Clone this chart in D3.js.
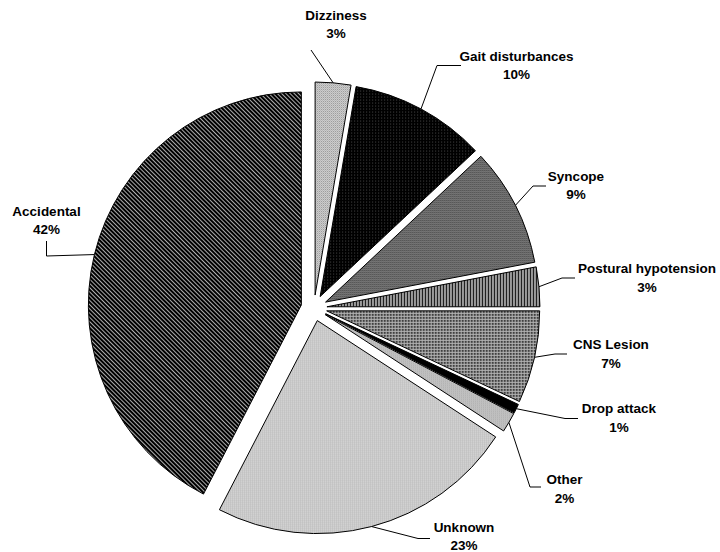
<!DOCTYPE html>
<html>
<head>
<meta charset="utf-8">
<script src="https://cdn.jsdelivr.net/npm/d3@7"></script>
<style>
  html, body { margin: 0; padding: 0; background: #fff; }
  svg { display: block; }
  text { font-family: "Liberation Sans", Arial, sans-serif; font-weight: bold; font-size: 13.5px; fill: #000; }
</style>
</head>
<body>
<svg id="chart" width="720" height="552"></svg>
<script>
// ---- data ----
const categories = ["Dizziness", "Gait disturbances", "Syncope", "Postural hypotension",
                    "CNS Lesion", "Drop attack", "Other", "Unknown", "Accidental"];
const values = [2.7, 10.3, 9.0, 3.0, 7.0, 0.7, 1.5, 23.4, 42.4];
const percentLabels = values.map(v => Math.round(v) + "%");

// ---- layout (label anchors: centre x, first baseline; leader elbow & end) ----
const fills = ["url(#p-diz)", "url(#p-gait)", "url(#p-sync)", "url(#p-post)", "url(#p-cns)",
               "#000", "url(#p-diz)", "url(#p-unk)", "url(#p-acc)"];
const labelAnchor = [[336, 19.5], [516.5, 60.5], [576, 180.5], [647, 273], [611, 349],
                     [619, 413], [564.5, 484], [464, 532], [46.5, 215.5]];
const leaderElbow = [null, [437, 65.5], [533, 186], [562, 278], [555, 354],
                     [565, 418.5], [530, 487], [418, 538.5], [46.5, 256]];
const leaderEnd = [[311, 50], [461, 65.5], [546, 186], [575, 278], [567, 354],
                   [578, 418.5], [541, 487], [430, 538.5], [46.5, 241]];

const W = 720, H = 552;
const cx = 314, cy = 308, R = 213, explode = 13;
const lineGap = [18.5, 18.5, 18.5, 18.5, 18.5, 18.5, 18.5, 17.5, 18.5];

const svg = d3.select("#chart");
const defs = svg.append("defs");

function pattern(id, w, h, bg, rects, transform) {
  const p = defs.append("pattern").attr("id", id).attr("patternUnits", "userSpaceOnUse")
    .attr("x", 0).attr("y", 0).attr("width", w).attr("height", h);
  if (transform) p.attr("patternTransform", transform);
  p.append("rect").attr("width", w).attr("height", h).attr("fill", bg);
  rects.forEach(r => p.append("rect").attr("x", r[0]).attr("y", r[1])
    .attr("width", r[2]).attr("height", r[3]).attr("fill", r[4]));
}
pattern("p-diz", 2, 2, "#d2d2d2", [[0, 0, 1, 1, "#969696"], [1, 1, 1, 1, "#b4b4b4"]]);
pattern("p-gait", 3, 3, "#000", [[1, 1, 1, 1, "#4a4a4a"]]);
pattern("p-sync", 2, 2, "#8e8e8e", [[0, 0, 1, 1, "#2c2c2c"], [1, 1, 1, 1, "#5a5a5a"]]);
pattern("p-post", 3, 3, "#9a9a9a", [[2, 0, 1, 3, "#1a1a1a"]]);
pattern("p-cns", 3, 3, "#b4b4b4", [[0, 0, 2, 2, "#404040"]]);
pattern("p-unk", 2, 2, "#bcbcbc", [[0, 0, 1, 1, "#f2f2f2"]]);
pattern("p-acc", 3, 3, "#d8d8d8", [[0, 0, 3, 2.2, "#000"]], "rotate(45)");

const pie = d3.pie().sort(null).value(d => d).startAngle(0).endAngle(2 * Math.PI);
const arcs = pie(values);
const arcGen = d3.arc().innerRadius(0).outerRadius(R);

const dir = a => [Math.sin(a), -Math.cos(a)];

const g = svg.append("g").attr("transform", `translate(${cx},${cy})`);
g.selectAll("path.slice").data(arcs).enter().append("path")
  .attr("class", "slice")
  .attr("transform", d => {
    const m = (d.startAngle + d.endAngle) / 2, v = dir(m);
    return `translate(${v[0] * explode},${v[1] * explode})`;
  })
  .attr("d", arcGen)
  .attr("fill", (d, i) => fills[i])
  .attr("stroke", "#000").attr("stroke-width", 1).attr("stroke-linejoin", "round");

// leader lines
arcs.forEach((d, i) => {
  const m = (d.startAngle + d.endAngle) / 2, v = dir(m);
  const start = [cx + v[0] * (R + explode), cy + v[1] * (R + explode)];
  const pts = [start];
  if (leaderElbow[i]) pts.push(leaderElbow[i]);
  pts.push(leaderEnd[i]);
  svg.append("path").attr("d", d3.line()(pts))
    .attr("fill", "none").attr("stroke", "#000").attr("stroke-width", 1);
});

// labels
const lab = svg.append("g");
categories.forEach((c, i) => {
  const t = lab.append("text").attr("text-anchor", "middle")
    .attr("x", labelAnchor[i][0]).attr("y", labelAnchor[i][1]);
  t.append("tspan").attr("x", labelAnchor[i][0]).text(c);
  t.append("tspan").attr("x", labelAnchor[i][0]).attr("dy", lineGap[i]).text(percentLabels[i]);
});
</script>
</body>
</html>
